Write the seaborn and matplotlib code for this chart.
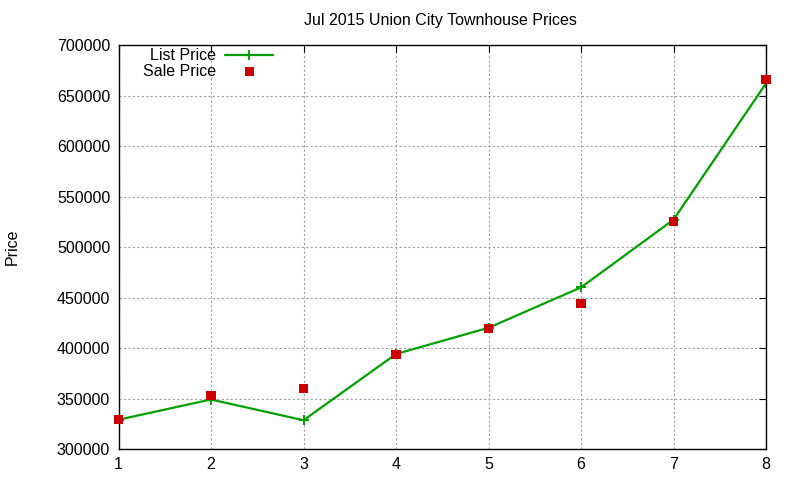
import matplotlib
matplotlib.use("Agg")
import matplotlib.pyplot as plt
import seaborn as sns
import pandas as pd

# data
rank = [1, 2, 3, 4, 5, 6, 7, 8]
list_price = [329000, 349000, 328500, 394000, 420000, 460000, 527000, 662000]
sale_price = [329000, 353000, 359500, 393500, 419500, 444500, 525500, 665500]

df = pd.DataFrame({"rank": rank, "list": list_price, "sale": sale_price})

sns.set_style("white")
plt.rcParams['font.family'] = ['Liberation Sans', 'DejaVu Sans']
plt.rcParams['text.color'] = 'black'
plt.rcParams['xtick.color'] = 'black'
plt.rcParams['ytick.color'] = 'black'

fig = plt.figure(figsize=(8, 4.8), dpi=100)
ax = fig.add_axes([118.5 / 800, 1 - 449 / 480, (766 - 118.5) / 800, (449 - 45) / 480])

sns.lineplot(data=df, x="rank", y="list", ax=ax, color="#00a000", linewidth=1.6,
             marker="+", markersize=7, markeredgewidth=1.4, markeredgecolor="#00a000",
             label="List Price")
sns.scatterplot(data=df, x="rank", y="sale", ax=ax, color="#cc0000", marker="s",
                s=42, edgecolor="none", label="Sale Price", zorder=5, clip_on=False)

ax.set_xlim(1, 8)
ax.set_ylim(300000, 700000)
ax.set_xticks(rank)
ax.set_yticks(range(300000, 700001, 50000))
ax.grid(True, color="#a0a0a0", linestyle=(0, (2, 2)), linewidth=0.8)
ax.tick_params(direction="in", length=5, width=0.8, top=True, right=True,
               labelsize=11.5, colors="black", pad=6)
for s in ax.spines.values():
    s.set_color("black")
    s.set_linewidth(1.0)

ax.set_xlabel("")
ax.set_ylabel("")
fig.text(12 / 800, 1 - 247 / 480, "Price", rotation=90, ha="center", va="center", fontsize=11.5)
fig.text(440 / 800, 1 - 20 / 480, "Jul 2015 Union City Townhouse Prices", ha="center", va="center",
         fontsize=11.5)

ax.legend(loc="upper left", bbox_to_anchor=(0.02, 1.02), frameon=False, markerfirst=False,
          fontsize=11.5, handlelength=3.0, handletextpad=0.6, labelspacing=0.05,
          borderaxespad=0.3)
leg = ax.get_legend()
for t in leg.get_texts():
    t.set_ha("right")

fig.savefig("out.png", dpi=100)
